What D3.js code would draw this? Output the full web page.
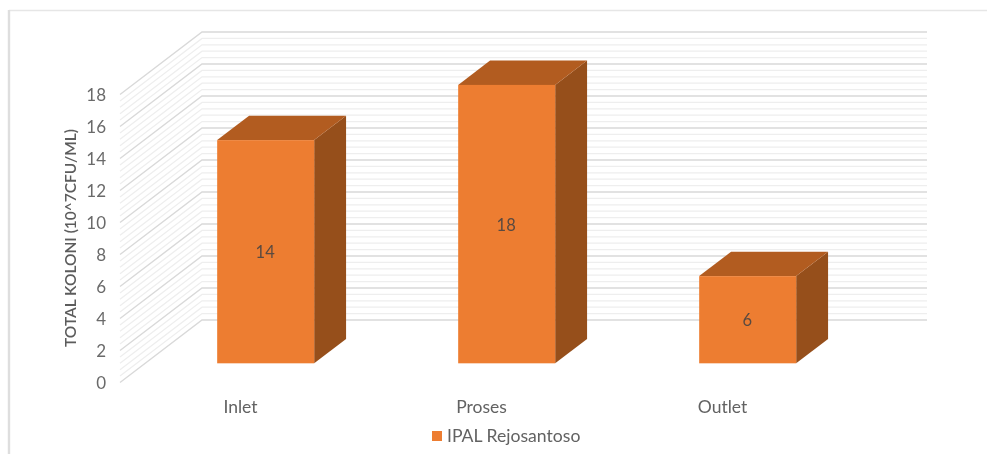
<!DOCTYPE html>
<html>
<head>
<meta charset="utf-8">
<script src="https://cdn.jsdelivr.net/npm/d3@7/dist/d3.min.js"></script>
<style>
html,body{margin:0;padding:0;background:#fff;overflow:hidden}
svg{display:block;filter:blur(0.5px)}
text{font-family:Lato,"Open Sans",sans-serif}
</style>
</head>
<body>
<svg id="c" width="987" height="454"></svg>
<script>
const categories = ["Inlet", "Proses", "Outlet"];
const barValues = [13.95, 17.4, 5.45];
const barLabels = ["14", "18", "6"];
const yTicks = [0, 2, 4, 6, 8, 10, 12, 14, 16, 18];
const minorStep = 0.4;
const yMax = 18;
const seriesName = "IPAL Rejosantoso";
const axisTitle = "TOTAL KOLONI (10^7CFU/ML)";

const svg = d3.select("#c");

// Front plane scales; depth maps 0 (front) to 1 (back wall).
const y = d3.scaleLinear().domain([0, yMax]).range([382.5, 94.5]);
const x = d3.scaleBand().domain(categories).range([120, 843])
  .paddingInner(0.5975).paddingOuter(0.29875);
const depthX = d3.scaleLinear().domain([0, 1]).range([0, 82]);
const depthY = d3.scaleLinear().domain([0, 1]).range([0, -62.5]);
const barDepthNear = 0.307, barDepthFar = 0.696;
const wallRight = 927;

// Chart frame
svg.append("line").attr("x1", 9).attr("x2", 987).attr("y1", 10.5).attr("y2", 10.5)
  .attr("stroke", "#e6e6e6").attr("stroke-width", 1.6);
svg.append("line").attr("x1", 9).attr("x2", 9).attr("y1", 10).attr("y2", 454)
  .attr("stroke", "#dedede").attr("stroke-width", 2.4);

// Gridlines: minor then major
const minorVals = d3.range(0, Math.round(yMax / minorStep) + 1)
  .map(i => i * minorStep)
  .filter(v => Math.abs(v / 2 - Math.round(v / 2)) > 1e-6);
const gridPath = v => d3.line()([
  [x.range()[0], y(v)],
  [x.range()[0] + depthX(1), y(v) + depthY(1)],
  [wallRight, y(v) + depthY(1)]
]);
svg.append("g").selectAll("path").data(minorVals).join("path")
  .attr("d", gridPath).attr("fill", "none").attr("stroke", "#eeeeee").attr("stroke-width", 1.3);
svg.append("g").selectAll("path").data(yTicks).join("path")
  .attr("d", gridPath).attr("fill", "none").attr("stroke", "#d9d9d9").attr("stroke-width", 1.4);

// Y axis labels
const yAxis = svg.append("g").attr("transform", "translate(106,1)")
  .call(d3.axisLeft(y).tickValues(yTicks).tickSize(0).tickPadding(0));
yAxis.select(".domain").remove();
yAxis.selectAll("text").attr("fill", "#6a6a6a").style("font-size", "17px")
  .style("font-family", "Lato,sans-serif");

// Bars
const bars = svg.append("g").selectAll("g").data(categories).join("g");
const bx = (c, d) => x(c) + depthX(d);
const by = (v, d) => y(v) + depthY(d);
const val = i => barValues[i];
const line = d3.line();
bars.append("path") // side
  .attr("d", (c, i) => line([
    [bx(c, barDepthNear) + x.bandwidth(), by(val(i), barDepthNear)],
    [bx(c, barDepthFar) + x.bandwidth(), by(val(i), barDepthFar)],
    [bx(c, barDepthFar) + x.bandwidth(), by(0, barDepthFar)],
    [bx(c, barDepthNear) + x.bandwidth(), by(0, barDepthNear)]
  ]) + "Z").attr("fill", "#964f1b");
bars.append("path") // top
  .attr("d", (c, i) => line([
    [bx(c, barDepthNear), by(val(i), barDepthNear)],
    [bx(c, barDepthFar), by(val(i), barDepthFar)],
    [bx(c, barDepthFar) + x.bandwidth(), by(val(i), barDepthFar)],
    [bx(c, barDepthNear) + x.bandwidth(), by(val(i), barDepthNear)]
  ]) + "Z").attr("fill", "#b25c20");
bars.append("rect") // front
  .attr("x", c => bx(c, barDepthNear))
  .attr("y", (c, i) => by(val(i), barDepthNear))
  .attr("width", x.bandwidth())
  .attr("height", (c, i) => by(0, barDepthNear) - by(val(i), barDepthNear))
  .attr("fill", "#ed7d31");
bars.append("text")
  .attr("x", c => bx(c, barDepthNear) + x.bandwidth() / 2 - 0.5)
  .attr("y", (c, i) => (by(val(i), barDepthNear) + by(0, barDepthNear)) / 2 + 1)
  .attr("dy", "0.35em").attr("text-anchor", "middle")
  .attr("fill", "#5a4a40").style("font-size", "16.5px")
  .text((c, i) => barLabels[i]);

// Category labels
svg.append("g").selectAll("text").data(categories).join("text")
  .attr("x", c => x(c) + x.bandwidth() / 2)
  .attr("y", 407).attr("dy", "0.35em").attr("text-anchor", "middle")
  .attr("fill", "#626262").style("font-size", "17.5px").text(c => c);

// Axis title
svg.append("text")
  .attr("transform", "translate(71,238) rotate(-90)")
  .attr("dy", "0.35em").attr("text-anchor", "middle")
  .attr("fill", "#5c5c5c").style("font-size", "15.5px").style("font-weight", 600)
  .text(axisTitle);

// Legend
svg.append("rect").attr("x", 432).attr("y", 431).attr("width", 10).attr("height", 10)
  .attr("fill", "#ed7d31");
svg.append("text").attr("x", 447).attr("y", 436).attr("dy", "0.35em")
  .attr("fill", "#626262").style("font-size", "17.6px").text(seriesName);
</script>
</body>
</html>
